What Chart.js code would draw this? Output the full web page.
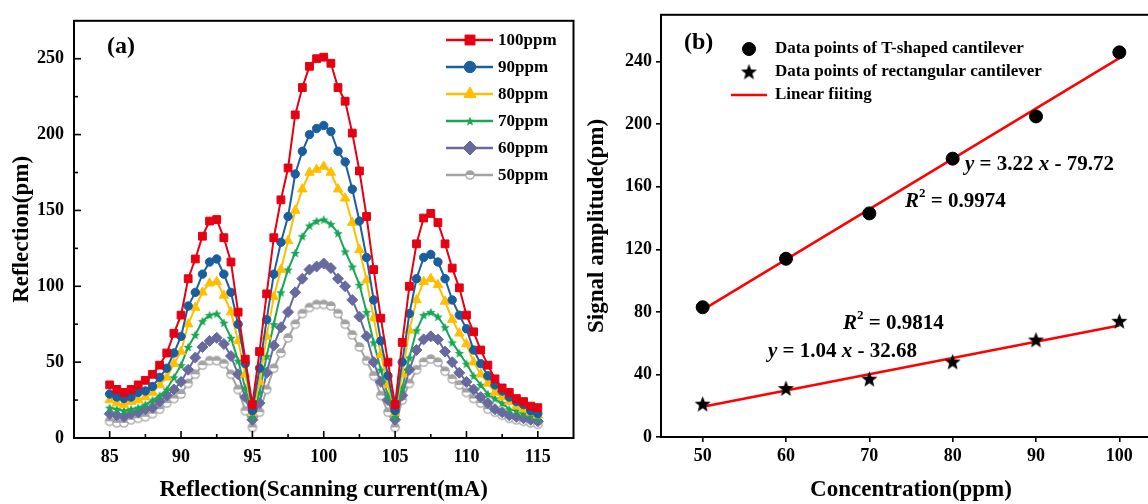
<!DOCTYPE html>
<html>
<head>
<meta charset="utf-8">
<script src="https://cdn.jsdelivr.net/npm/chart.js@4.4.0/dist/chart.umd.min.js"></script>
<style>
  html, body { margin: 0; padding: 0; background: #fff; overflow: hidden; }
  body { width: 1148px; height: 504px; position: relative; }
  #chartA { position: absolute; left: 0; top: 0; }
  #chartB { position: absolute; left: 580px; top: 0; }
</style>
</head>
<body>
<canvas id="chartA" width="580" height="504"></canvas>
<canvas id="chartB" width="610" height="504"></canvas>
<script>
// ---------- panel (a) data ----------
const current = [85,85.5,86,86.5,87,87.5,88,88.5,89,89.5,90,90.5,91,91.5,92,92.5,93,93.5,94,94.5,95,
  95.5,96,96.5,97,97.5,98,98.5,99,99.5,100,100.5,101,101.5,102,102.5,103,103.5,104,104.5,105,
  105.5,106,106.5,107,107.5,108,108.5,109,109.5,110,110.5,111,111.5,112,112.5,113,113.5,114,114.5,115];

const ppm100 = [35,32,30,32,35,38,42,48,56,69,81,105,118,133,143,144,132,116,83,52,22,
  57,95,132,157,178,213,231,245,250,251,247,231,222,201,176,146,111,79,50,22,
  63,100,128,145,148,142,128,112,99,81,70,58,48,39,33,30,26,24,21,20];
const ppm90 = [29,27,26,27,30,31,34,40,46,56,67,87,96,108,116,118,108,96,75,49,18,
  46,78,108,129,146,174,189,200,204,206,202,189,182,164,143,119,91,64,41,18,
  50,82,105,119,121,116,105,91,81,72,58,49,41,35,31,27,24,22,18,16];
const ppm80 = [25,23,22,24,25,27,30,35,40,49,57,75,86,96,102,103,94,83,64,42,17,
  37,67,93,111,130,150,164,175,177,179,175,164,158,142,124,104,79,55,35,17,
  42,71,91,103,105,101,90,78,69,62,50,42,36,30,27,24,21,19,17,15];
const ppm70 = [20,19,18,19,20,22,25,28,32,40,48,60,68,77,81,82,76,66,51,33,14,
  30,54,75,96,111,122,133,140,143,144,141,135,123,113,101,83,63,45,28,14,
  33,53,71,81,83,80,73,63,56,49,41,35,29,26,23,19,18,16,15,13];
const ppm60 = [16,15,14,16,17,19,20,24,28,32,37,45,53,60,64,66,62,54,42,27,12,
  23,43,61,73,83,96,105,111,113,115,112,105,100,91,80,67,50,37,25,12,
  28,45,58,65,67,65,57,50,43,37,32,27,23,19,17,15,14,13,12,11];
const ppm50 = [11,10,10,12,13,14,16,19,23,26,29,36,42,48,51,51,49,42,32,18,7,
  17,32,46,56,66,75,82,86,88,88,87,82,75,68,60,51,41,28,17,7,
  25,36,45,50,52,50,44,39,35,30,26,23,19,17,15,13,12,11,10,9];

const xTicksA = [85,90,95,100,105,110,115];
const xMinorA = [87.5,92.5,97.5,102.5,107.5,112.5];
const yTicksA = [0,50,100,150,200,250];
const yMinorA = [25,75,125,175,225];

// ---------- panel (b) data ----------
const concentration = [50,60,70,80,90,100];
const tShaped = [83,114,143,178,205,246];
const rectangular = [21,31,37,48,62,74];
const fitX = [50,100];
const fitT = [81.3,242.3];
const fitR = [19.3,71.3];

const xTicksB = [50,60,70,80,90,100];
const yTicksB = [0,40,80,120,160,200,240];

// ---------- shared style ----------
const SERIF = '"Liberation Serif", "Times New Roman", serif';
Chart.defaults.font.family = SERIF;
Chart.defaults.font.weight = 'bold';
Chart.defaults.color = '#000';

const tickFont = { family: SERIF, size: 18, weight: 'bold' };
const titleFont = { family: SERIF, size: 23, weight: 'bold', lineHeight: 1.2 };

function starCanvas(outer, inner, color) {
    const s = Math.ceil(outer * 2 + 2);
    const c = document.createElement('canvas');
    c.width = s; c.height = s;
    const g = c.getContext('2d');
    g.fillStyle = color;
    g.beginPath();
    for (let k = 0; k < 10; k++) {
        const r = k % 2 ? inner : outer;
        const ang = -Math.PI / 2 + k * Math.PI / 5;
        g.lineTo(s / 2 + r * Math.cos(ang), s / 2 + 0.5 + r * Math.sin(ang));
    }
    g.closePath();
    g.fill();
    return c;
}

function halfCircle(r, color) {
    const s = Math.ceil(r * 2 + 3);
    const c = document.createElement('canvas');
    c.width = s; c.height = s;
    const g = c.getContext('2d');
    g.fillStyle = '#fff';
    g.beginPath(); g.arc(s / 2, s / 2, r, 0, Math.PI * 2); g.fill();
    g.fillStyle = color;
    g.beginPath(); g.arc(s / 2, s / 2, r, Math.PI, Math.PI * 2); g.closePath(); g.fill();
    g.strokeStyle = color; g.lineWidth = 1.2;
    g.beginPath(); g.arc(s / 2, s / 2, r, 0, Math.PI * 2); g.stroke();
    return c;
}

const seriesA = [
    { label: '100ppm', values: ppm100, color: '#e50012', style: 'rect', r: 5.5 },
    { label: '90ppm',  values: ppm90,  color: '#1b5e9f', style: 'circle', r: 4.2 },
    { label: '80ppm',  values: ppm80,  color: '#ffbf00', style: 'triangle', r: 5.5 },
    { label: '70ppm',  values: ppm70,  color: '#1ba657', style: starCanvas(5, 2.2, '#1ba657'), r: 4 },
    { label: '60ppm',  values: ppm60,  color: '#686a9f', style: 'rectRot', r: 5.5 },
    { label: '50ppm',  values: ppm50,  color: '#a3a3a3', style: halfCircle(4.2, '#a3a3a3'), r: 4 }
];

function setTicks(list) {
    return scale => { scale.ticks = list.map(v => ({ value: v })); };
}

function line(ctx, x1, y1, x2, y2) {
    ctx.beginPath(); ctx.moveTo(x1, y1); ctx.lineTo(x2, y2); ctx.stroke();
}

function drawMarker(ctx, style, r, color, x, y) {
    ctx.fillStyle = color;
    ctx.strokeStyle = color;
    ctx.lineWidth = 1;
    Chart.helpers.drawPoint(ctx, { pointStyle: style, radius: r, rotation: 0, borderWidth: 1 }, x, y);
}

// rich text: parts = [text, italic, superscript]
function drawRich(ctx, parts, x, y, size) {
    let cx = x;
    parts.forEach(([t, it, sup]) => {
        const fs = sup ? Math.round(size * 0.62) : size;
        ctx.font = `${it ? 'italic ' : ''}bold ${fs}px ${SERIF}`;
        ctx.fillText(t, cx, sup ? y - size * 0.38 : y);
        cx += ctx.measureText(t).width;
    });
}

// ---------- panel (a) ----------
const framePluginA = {
    id: 'frameA',
    afterDraw(chart) {
        const { ctx, chartArea: a, scales: { x, y } } = chart;
        ctx.save();
        ctx.strokeStyle = '#000';
        ctx.lineWidth = 2;
        ctx.strokeRect(a.left, a.top, a.right - a.left, a.bottom - a.top);
        ctx.lineWidth = 1.6;
        xTicksA.forEach(v => { const p = x.getPixelForValue(v); line(ctx, p, a.bottom, p, a.bottom - 7); });
        xMinorA.forEach(v => { const p = x.getPixelForValue(v); line(ctx, p, a.bottom, p, a.bottom - 4); });
        yTicksA.forEach(v => { const p = y.getPixelForValue(v); line(ctx, a.left, p, a.left + 7, p); });
        yMinorA.forEach(v => { const p = y.getPixelForValue(v); line(ctx, a.left, p, a.left + 4, p); });

        // panel label
        ctx.fillStyle = '#000';
        ctx.textBaseline = 'middle';
        ctx.textAlign = 'left';
        ctx.font = `bold 24px ${SERIF}`;
        ctx.fillText('(a)', 107, 47);

        // legend
        ctx.font = `bold 17px ${SERIF}`;
        seriesA.forEach((s, i) => {
            const ly = 40 + i * 27;
            ctx.strokeStyle = s.color;
            ctx.lineWidth = 2.5;
            line(ctx, 446, ly, 493, ly);
            drawMarker(ctx, s.style, s.r + 1.5, s.color, 470, ly);
            ctx.fillStyle = '#000';
            ctx.fillText(s.label, 498, ly + 1);
        });
        ctx.restore();
    }
};

new Chart(document.getElementById('chartA'), {
    type: 'line',
    data: {
        datasets: seriesA.map(s => ({
            label: s.label,
            data: current.map((c, i) => ({ x: c, y: s.values[i] })),
            borderColor: s.color,
            backgroundColor: s.color,
            borderWidth: 2,
            pointStyle: s.style,
            pointRadius: s.r,
            pointBorderWidth: 1,
            pointBackgroundColor: s.color,
            pointBorderColor: s.color,
            tension: 0
        }))
    },
    options: {
        responsive: false,
        animation: false,
        events: [],
        devicePixelRatio: 1,
        layout: { padding: { left: 0, top: 16, right: 2, bottom: 0 } },
        plugins: { legend: { display: false }, tooltip: { enabled: false } },
        scales: {
            x: {
                type: 'linear', min: 82.5, max: 117.5,
                afterBuildTicks: setTicks(xTicksA),
                afterFit: s => { s.height = 66; },
                grid: { display: false, drawTicks: false },
                border: { display: false },
                ticks: { font: tickFont, color: '#000', padding: 9, maxRotation: 0 },
                title: { display: true, text: 'Reflection(Scanning current(mA)', font: titleFont, color: '#000', padding: { top: 0, bottom: 0 } }
            },
            y: {
                type: 'linear', min: 0, max: 275,
                afterBuildTicks: setTicks(yTicksA),
                afterFit: s => { s.width = 74; },
                grid: { display: false, drawTicks: false },
                border: { display: false },
                ticks: { font: tickFont, color: '#000', padding: 10 },
                title: { display: true, text: 'Reflection(pm)', font: titleFont, color: '#000', padding: { top: 8, bottom: 0 } }
            }
        }
    },
    plugins: [framePluginA]
});

// ---------- panel (b) ----------
const starB = starCanvas(8.5, 3.6, '#000');

const framePluginB = {
    id: 'frameB',
    afterDraw(chart) {
        const { ctx, chartArea: a } = chart;
        ctx.save();
        ctx.strokeStyle = '#000';
        ctx.lineWidth = 2;
        ctx.strokeRect(a.left, a.top, a.right - a.left, a.bottom - a.top);

        ctx.fillStyle = '#000';
        ctx.textBaseline = 'middle';
        ctx.textAlign = 'left';
        ctx.font = `bold 24px ${SERIF}`;
        ctx.fillText('(b)', 104, 43);

        // legend
        ctx.font = `bold 17px ${SERIF}`;
        drawMarker(ctx, 'circle', 6.5, '#000', 169, 49);
        ctx.fillText('Data points of T-shaped cantilever', 195, 49);
        drawMarker(ctx, starB, 8, '#000', 169, 72);
        ctx.fillStyle = '#000';
        ctx.fillText('Data points of rectangular cantilever', 195, 72);
        ctx.strokeStyle = '#ff0000';
        ctx.lineWidth = 2.5;
        line(ctx, 151, 95, 187, 95);
        ctx.fillText('Linear fiiting', 195, 95);

        // fit equations
        drawRich(ctx, [['y', true], [' = 3.22 ', false], ['x', true], [' - 79.72', false]], 385, 165, 21);
        drawRich(ctx, [['R', true], ['2', false, true], [' = 0.9974', false]], 325, 202, 21);
        drawRich(ctx, [['R', true], ['2', false, true], [' = 0.9814', false]], 263, 324, 21);
        drawRich(ctx, [['y', true], [' = 1.04 ', false], ['x', true], [' - 32.68', false]], 188, 352, 21);
        ctx.restore();
    }
};

new Chart(document.getElementById('chartB'), {
    type: 'scatter',
    data: {
        datasets: [
            {
                label: 'Data points of T-shaped cantilever',
                data: concentration.map((c, i) => ({ x: c, y: tShaped[i] })),
                pointStyle: 'circle', pointRadius: 6.5,
                pointBackgroundColor: '#000', pointBorderColor: '#000'
            },
            {
                label: 'Data points of rectangular cantilever',
                data: concentration.map((c, i) => ({ x: c, y: rectangular[i] })),
                pointStyle: starB, pointRadius: 8,
                pointBackgroundColor: '#000', pointBorderColor: '#000'
            },
            {
                type: 'line', label: 'Linear fiiting',
                data: fitX.map((c, i) => ({ x: c, y: fitT[i] })),
                borderColor: '#ff0000', borderWidth: 2.5, pointRadius: 0, tension: 0
            },
            {
                type: 'line', label: 'Linear fiiting (rect)',
                data: fitX.map((c, i) => ({ x: c, y: fitR[i] })),
                borderColor: '#ff0000', borderWidth: 2.5, pointRadius: 0, tension: 0
            }
        ]
    },
    options: {
        responsive: false,
        animation: false,
        events: [],
        devicePixelRatio: 1,
        layout: { padding: { left: 0, top: 10, right: 29, bottom: 0 } },
        plugins: { legend: { display: false }, tooltip: { enabled: false } },
        scales: {
            x: {
                type: 'linear', min: 45, max: 105,
                afterBuildTicks: setTicks(xTicksB),
                afterFit: s => { s.height = 67; },
                grid: { drawOnChartArea: false, drawTicks: true, tickLength: 5, color: '#000', lineWidth: 1.6 },
                border: { display: false },
                ticks: { font: tickFont, color: '#000', padding: 4, maxRotation: 0 },
                title: { display: true, text: 'Concentration(ppm)', font: titleFont, color: '#000', padding: { top: 0, bottom: 0 } }
            },
            y: {
                type: 'linear', min: 0, max: 270,
                afterBuildTicks: setTicks(yTicksB),
                afterFit: s => { s.width = 81; },
                grid: { drawOnChartArea: false, drawTicks: true, tickLength: 5, color: '#000', lineWidth: 1.6 },
                border: { display: false },
                ticks: { font: tickFont, color: '#000', padding: 4 },
                title: { display: true, text: 'Signal amplitude(pm)', font: titleFont, color: '#000', padding: { top: 3, bottom: 0 } }
            }
        }
    },
    plugins: [framePluginB]
});
</script>
</body>
</html>
